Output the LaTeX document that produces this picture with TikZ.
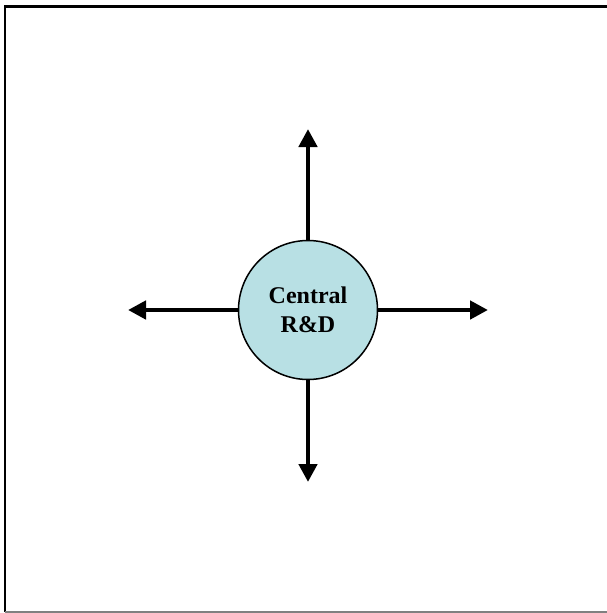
\documentclass[tikz,border=0pt]{standalone}
\usepackage{fontspec}
\setmainfont{Liberation Serif}
\usetikzlibrary{arrows.meta}
\definecolor{circfill}{RGB}{184,224,228}
\begin{document}
\begin{tikzpicture}[x=1pt,y=-1pt,
  arr/.style={line width=4.8pt,-{Triangle[width=18pt,length=18pt]}},
  hub/.style={circle,draw=black,line width=1.5pt,fill=circfill,minimum size=139pt,inner sep=0pt,align=center,font=\fontsize{24}{28.5}\selectfont\bfseries}]
\useasboundingbox (0,0) rectangle (606,613);
\draw[line width=2.2pt] (5,612) -- (5,6.5) -- (612,6.5);
\draw[line width=1.2pt,gray] (5,612) -- (612,612);
\node[hub] (c) at (308,310) {Central\\R\&D};
\coordinate (up) at (308,129);
\coordinate (dn) at (308,482);
\coordinate (lf) at (128,310);
\coordinate (rt) at (488,310);
\draw[arr] (c.north) -- (up);
\draw[arr] (c.south) -- (dn);
\draw[arr] (c.west) -- (lf);
\draw[arr] (c.east) -- (rt);
\end{tikzpicture}
\end{document}
